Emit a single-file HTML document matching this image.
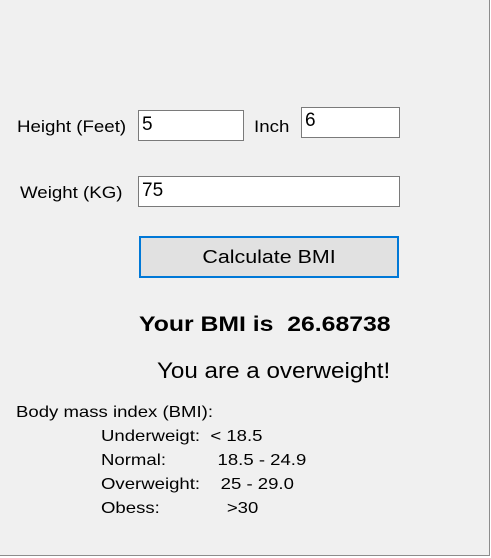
<!DOCTYPE html>
<html><head><style>
body{margin:0;width:491px;height:558px;background:#fff;overflow:hidden;font-family:"Liberation Sans",Arial,sans-serif;color:#000}
#form{position:absolute;left:0;top:0;width:489px;height:555px;background:#f0f0f0;border-right:1px solid #8c8c8c;border-bottom:1px solid #8c8c8c}
.t{position:absolute;white-space:pre;line-height:1;transform-origin:0 0}
.box{position:absolute;background:#fff;border:1px solid #7a7a7a;box-sizing:border-box;font-size:19px;padding:3px 0 0 3px}
.l{transform:scaleX(1.16)}
</style></head><body>
<div id="form">
<div class="t" style="left:17px;top:118px;font-size:17px;transform:scaleX(1.1)">Height (Feet)</div>
<div class="box" style="left:138px;top:110px;width:106px;height:31px">5</div>
<div class="t" style="left:254px;top:118px;font-size:17px;transform:scaleX(1.1)">Inch</div>
<div class="box" style="left:301px;top:107px;width:99px;height:31px;padding-top:2px">6</div>
<div class="t" style="left:20px;top:184px;font-size:17px;transform:scaleX(1.1)">Weight (KG)</div>
<div class="box" style="left:138px;top:176px;width:262px;height:31px">75</div>
<div style="position:absolute;left:139px;top:236px;width:260px;height:42px;box-sizing:border-box;border:2px solid #0078d7;background:#e1e1e1;font-size:18px;text-align:center;line-height:38px"><span style="display:inline-block;transform:scaleX(1.19)">Calculate BMI</span></div>
<div class="t" style="left:139px;top:314px;font-size:21px;font-weight:bold;transform:scaleX(1.18)">Your BMI is  26.68738</div>
<div class="t" style="left:157px;top:360px;font-size:22px;transform:scaleX(1.1)">You are a overweight!</div>
<div class="t l" style="left:16px;top:405px;font-size:16px">Body mass index (BMI):</div>
<div class="t l" style="left:101px;top:429px;font-size:16px">Underweigt:  &lt; 18.5</div>
<div class="t l" style="left:101px;top:453px;font-size:16px">Normal:          18.5 - 24.9</div>
<div class="t l" style="left:101px;top:477px;font-size:16px">Overweight:    25 - 29.0</div>
<div class="t l" style="left:101px;top:501px;font-size:16px">Obess:             &gt;30</div>
</div>
</body></html>
